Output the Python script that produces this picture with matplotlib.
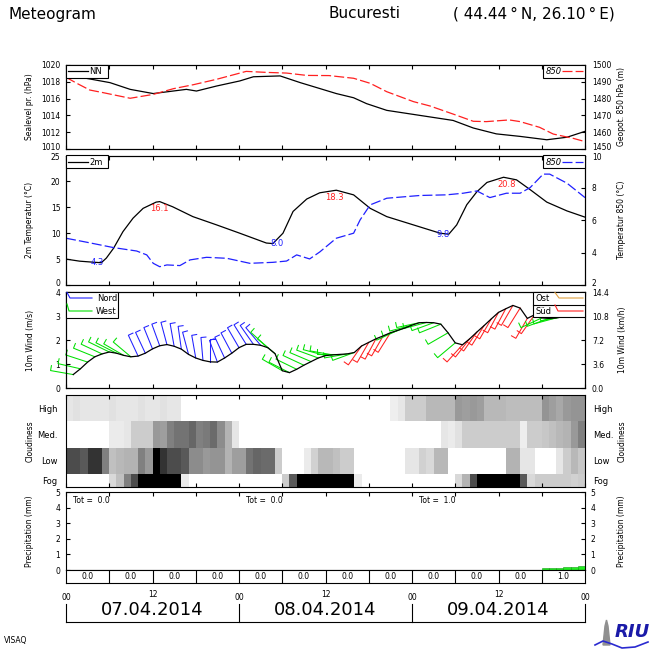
import numpy as np
import matplotlib.pyplot as plt
from matplotlib.patches import Rectangle, Polygon
from matplotlib.lines import Line2D

plt.rcParams['font.family'] = ['DejaVu Sans']

W, H = 650, 650

# ---------------- data ----------------
# sea level pressure (hPa)
hours_slp = [0, 2.9, 6.1, 8.9, 12.1, 16.7, 18.1, 20.9, 24.1, 26, 29.7, 32.5, 35.2, 37.5,
             39.9, 41.7, 44.5, 49.1, 53.7, 56.5, 59.7, 63, 66.7, 69.5, 72]
slp = [1019.4, 1018.4, 1017.9, 1017.1, 1016.6, 1017.1, 1016.9, 1017.5, 1018.1, 1018.6, 1018.7,
       1017.9, 1017.2, 1016.6, 1016.1, 1015.4, 1014.6, 1014.0, 1013.4, 1012.5, 1011.8, 1011.5,
       1011.1, 1011.4, 1012.1]

# geopotential 850 hPa (m)
hours_z = [0, 1.5, 3.3, 5.2, 8.9, 12.1, 14.9, 17.7, 20.9, 25, 27.8, 30.6, 33.4, 36.5, 39.9,
           42.2, 44.5, 48.2, 50.5, 53.7, 56.5, 58.3, 61.5, 63, 65.7, 67.6, 70.4, 72]
z850 = [1492.7, 1489.1, 1485.1, 1483.5, 1480.2, 1482.5, 1485.9, 1488.3, 1491.5, 1496.2, 1495.6,
        1495.2, 1493.8, 1493.7, 1492.1, 1489.1, 1484.1, 1478.2, 1475.6, 1470.8, 1466.5, 1466.3,
        1467.3, 1466.3, 1462.9, 1458.9, 1456.3, 1454.4]

# 2m temperature (C)
hours_t2 = [0, 1.9, 3.8, 4.9, 5.6, 6.6, 7.9, 9.3, 10.7, 12.5, 13, 14.8, 17.6, 20.9, 24.1, 27.8,
            28.7, 30.1, 31.5, 33.4, 35.2, 37.5, 39.9, 42.2, 44.5, 48.2, 51.9, 53.1, 54.2, 55.6,
            57, 58.4, 60.7, 62.5, 64.4, 66.7, 69.5, 72]
t2 = [5.0, 4.6, 4.4, 4.3, 5.2, 7.1, 10.3, 12.9, 14.8, 16.0, 16.1, 15.1, 13.2, 11.6, 10.0, 8.1,
      8.0, 10.0, 14.2, 16.6, 17.8, 18.3, 17.4, 14.8, 13.2, 11.6, 10.0, 9.8, 11.6, 15.5, 18.0,
      19.8, 20.8, 20.3, 18.4, 16.0, 14.3, 13.1]

# 850 hPa temperature (C)
hours_t850 = [0, 2.9, 6.6, 9.8, 11.2, 12.1, 13, 14, 15.8, 17.2, 19.5, 22.3, 25.5, 28.7, 30.6, 32,
              33.8, 35.2, 37.5, 39.9, 40.8, 42.2, 44.5, 49.1, 52.8, 55.1, 57, 58.8, 61.1, 63,
              64.4, 66.2, 67.1, 69.5, 72]
t850 = [4.89, 4.64, 4.31, 4.10, 3.86, 3.34, 3.13, 3.24, 3.20, 3.55, 3.71, 3.65, 3.34, 3.40, 3.48,
        3.86, 3.61, 4.04, 4.89, 5.20, 6.02, 6.95, 7.36, 7.53, 7.57, 7.67, 7.81, 7.40, 7.67, 7.67,
        8.02, 8.85, 8.85, 8.29, 7.40]

# labelled extremes of 2m temperature
ext_hours = [4.3, 13.0, 29.3, 37.2, 52.3, 61.1]
ext_values = [4.3, 16.1, 8.0, 18.3, 9.8, 20.8]
ext_is_max = [False, True, False, True, False, True]

# 10m wind, hourly from hour 1 to 72
wind_hours = list(range(1, 73))
wind_speed = [0.56, 0.80, 1.08, 1.30, 1.42, 1.50, 1.45, 1.36, 1.30, 1.33, 1.45, 1.63,
              1.76, 1.81, 1.74, 1.62, 1.40, 1.25, 1.15, 1.09, 1.08, 1.25, 1.45, 1.68,
              1.82, 1.82, 1.78, 1.68, 1.43, 0.72, 0.64, 0.78, 0.95, 1.10, 1.25, 1.35,
              1.38, 1.40, 1.42, 1.48, 1.75, 1.90, 2.05, 2.17, 2.30, 2.40, 2.50, 2.62,
              2.72, 2.73, 2.72, 2.66, 2.30, 1.88, 1.80, 2.05, 2.33, 2.60, 2.88, 3.15,
              3.30, 3.44, 3.33, 2.90, 3.05, 2.92, 2.90, 2.92, 2.97, 3.03, 3.15, 3.28]
wind_dir = [280, 283, 288, 292, 295, 296, 297, 300, 310, 335, 335, 338,
            340, 345, 350, 352, 345, 350, 355, 0, 340, 335, 332, 330,
            328, 325, 320, 312, 310, 300, 297, 296, 295, 293, 290, 285,
            280, 270, 260, 250, 215, 210, 208, 210, 212, 245, 250, 255,
            258, 255, 250, 248, 240, 230, 222, 218, 215, 212, 210, 208,
            208, 210, 212, 210, 215, 245, 250, 255, 260, 265, 270, 280]

# cloud cover grey level per hour (1 = clear, 0 = overcast)
cloud_high = [0.90, 0.88, 0.90, 0.90, 0.90, 0.90, 0.88, 0.90, 0.90, 0.90, 0.88, 0.90,
              0.90, 0.88, 0.90, 0.90, 1, 1, 1, 1, 1, 1, 1, 1,
              1, 1, 1, 1, 1, 1, 1, 1, 1, 1, 1, 1,
              1, 1, 1, 1, 1, 1, 1, 1, 1, 0.93, 0.90, 0.80,
              0.80, 0.80, 0.72, 0.72, 0.72, 0.72, 0.60, 0.62, 0.60, 0.62, 0.72, 0.72,
              0.72, 0.74, 0.74, 0.74, 0.74, 0.74, 0.58, 0.62, 0.66, 0.60, 0.58, 0.58]
cloud_med = [1, 1, 1, 1, 1, 1, 0.92, 0.92, 0.90, 0.80, 0.80, 0.80,
             0.60, 0.62, 0.50, 0.45, 0.45, 0.40, 0.50, 0.48, 0.42, 0.55, 0.70, 0.90,
             1, 1, 1, 1, 1, 1, 1, 1, 1, 1, 1, 1,
             1, 1, 1, 1, 1, 1, 1, 1, 1, 1, 1, 1,
             1, 1, 1, 1, 0.90, 0.92, 0.88, 0.80, 0.80, 0.80, 0.80, 0.80,
             0.80, 0.80, 0.80, 0.93, 0.80, 0.80, 0.78, 0.75, 0.72, 0.70, 0.60, 0.50]
cloud_low = [0.30, 0.30, 0.35, 0.20, 0.20, 0.50, 0.75, 0.72, 0.70, 0.70, 0.50, 0.60,
             0.00, 0.20, 0.30, 0.30, 0.35, 0.55, 0.55, 0.60, 0.58, 0.58, 0.70, 0.62,
             0.62, 0.45, 0.40, 0.42, 0.42, 0.80, 1, 1, 1, 0.92, 0.82, 0.72,
             0.72, 0.75, 0.80, 0.80, 1, 1, 1, 1, 1, 1, 1, 0.90,
             0.90, 0.82, 0.85, 0.72, 0.72, 1, 1, 1, 1, 1, 1, 1,
             1, 0.70, 0.70, 0.90, 0.90, 1, 1, 1, 0.90, 0.80, 0.72, 0.78]
cloud_fog = [1, 1, 1, 1, 1, 1, 0.85, 0.75, 0.50, 0.30, 0.00, 0.00,
             0, 0, 0, 0, 0.92, 1, 1, 1, 1, 1, 1, 1,
             1, 1, 1, 1, 1, 1, 0.80, 0.35, 0, 0, 0, 0,
             0, 0, 0, 0, 0.92, 1, 1, 1, 1, 1, 1, 1,
             1, 1, 1, 1, 1, 1, 0.85, 0.70, 0.30, 0, 0, 0,
             0, 0, 0, 0.35, 0.85, 0.80, 0.80, 0.80, 0.80, 0.80, 0.82, 0.80]
cloud_levels = ['Fog', 'Low', 'Med.', 'High']

# precipitation (mm per hour) and totals
precip_hours = [66, 67, 68, 69, 70, 71]
precip = [0.10, 0.12, 0.15, 0.18, 0.20, 0.25]
precip_6h = [0.0, 0.0, 0.0, 0.0, 0.0, 0.0, 0.0, 0.0, 0.0, 0.0, 0.0, 1.0]
day_totals = [0.0, 0.0, 1.0]
dates = ['07.04.2014', '08.04.2014', '09.04.2014']
hour_labels = ['00', '12', '00', '12', '00', '12', '00']

# ---------------- figure ----------------
fig = plt.figure(figsize=(6.5, 6.5), dpi=100)
LW = 0.8
FS = 5.5
X0, X1 = 66, 585
LEFT_LAB, RIGHT_LAB = 60.4, 592


def px_axes(x0, y0, x1, y1):
    return fig.add_axes([x0 / W, 1 - y1 / H, (x1 - x0) / W, (y1 - y0) / H])


def ftext(x, y, s, **kw):
    fig.text(x / W, 1 - y / H, s, **kw)


def fline(xs, ys, **kw):
    fig.add_artist(Line2D([x / W for x in xs], [1 - y / H for y in ys],
                          transform=fig.transFigure, **kw))


def fbox(x0, y0, x1, y1):
    fig.add_artist(Rectangle((x0 / W, 1 - y1 / H), (x1 - x0) / W, (y1 - y0) / H,
                             transform=fig.transFigure, facecolor='white',
                             edgecolor='black', lw=LW, zorder=5))


def style(ax):
    ax.set_xlim(0, 72)
    ax.set_xticks(np.arange(0, 73, 6))
    ax.tick_params(axis='x', direction='in', top=True, bottom=True, length=3,
                   width=LW, labelbottom=False)
    ax.tick_params(axis='y', direction='in', length=3, width=LW, labelsize=FS, pad=4)
    for s in ax.spines.values():
        s.set_linewidth(LW)


def yticks_with_edge(ax, ticks, fmt, drop):
    # tick labels at panel joints are placed by hand, nudged apart slightly
    ax.set_yticks(ticks)
    ax.set_yticklabels(['' if i in drop else fmt(t) for i, t in enumerate(ticks)])


def edge_label(y, s, side):
    if side == 'left':
        ftext(LEFT_LAB, y, s, fontsize=FS, ha='right', va='center')
    else:
        ftext(RIGHT_LAB, y, s, fontsize=FS, ha='left', va='center')


# titles
ftext(9, 14, 'Meteogram', fontsize=11, va='center')
ftext(328, 14, 'Bucuresti', fontsize=11, va='center')
ftext(453, 14, '( 44.44\u2009°\u2009N, 26.10\u2009°\u2009E)', fontsize=11, va='center')

# ---- panel 1: pressure ----
ax1 = px_axes(X0, 65, X1, 149)
style(ax1)
ax1.plot(hours_slp, slp, color='black', lw=0.9)
ax1.set_ylim(1010, 1020)
yticks_with_edge(ax1, list(range(1010, 1021, 2)), str, [0])
edge_label(147.4, '1010', 'left')
ax1b = ax1.twinx()
ax1b.plot(hours_z, z850, color='#ff2020', lw=0.9, dashes=(8, 2.5))
ax1b.set_ylim(1450, 1500)
yticks_with_edge(ax1b, list(range(1450, 1501, 10)), str, [0])
edge_label(147.4, '1450', 'right')
ax1b.tick_params(axis='y', direction='in', length=3, width=LW, labelsize=FS, pad=5)
ax1b.set_xlim(0, 72)
ftext(30, 107, 'Sealevel pr. (hPa)', fontsize=FS, rotation=90, ha='center', va='center')
ftext(622, 107, 'Geopot. 850 hPa (m)', fontsize=FS, rotation=90, ha='center', va='center')
fbox(66, 65, 108, 78)
fline([68, 88], [71, 71], color='black', lw=0.9, zorder=6)
ftext(89, 71.5, 'NN', fontsize=6, va='center', zorder=6)
fbox(543, 65, 585, 78)
ftext(546, 71.5, '850', fontsize=6, va='center', style='italic', zorder=6)
fline([562, 583], [71, 71], color='#ff2020', lw=0.9, dashes=(8, 2.5), zorder=6)

# ---- panel 2: temperature ----
ax2 = px_axes(X0, 155.5, X1, 285)
style(ax2)
ax2.plot(hours_t2, t2, color='black', lw=0.9)
ax2.set_ylim(0, 25)
yticks_with_edge(ax2, list(range(0, 26, 5)), str, [0, 5])
edge_label(157.6, '25', 'left')
edge_label(283.2, '0', 'left')
ax2b = ax2.twinx()
ax2b.plot(hours_t850, t850, color='#2020ff', lw=0.9, dashes=(8, 2.5))
ax2b.set_ylim(2, 10)
yticks_with_edge(ax2b, list(range(2, 11, 2)), str, [0, 4])
edge_label(157.6, '10', 'right')
edge_label(283.2, '2', 'right')
ax2b.tick_params(axis='y', direction='in', length=3, width=LW, labelsize=FS, pad=5)
ax2b.set_xlim(0, 72)
for h, v, is_max in zip(ext_hours, ext_values, ext_is_max):
    ax2.annotate(f'{v:.1f}', (h, v), xytext=(0, -5 if is_max else 0),
                 textcoords='offset points', ha='center', va='center', fontsize=6,
                 color='#ff2020' if is_max else '#2020ff')
ftext(30, 220, '2m Temperatur (°C)', fontsize=FS, rotation=90, ha='center', va='center')
ftext(622, 220, 'Temperatur 850 (°C)', fontsize=FS, rotation=90, ha='center', va='center')
fbox(66, 155.5, 108, 168.5)
fline([68, 88], [162, 162], color='black', lw=0.9, zorder=6)
ftext(89, 162.5, '2m', fontsize=6, va='center', zorder=6)
fbox(543, 155.5, 585, 168.5)
ftext(546, 162.5, '850', fontsize=6, va='center', style='italic', zorder=6)
fline([562, 583], [162, 162], color='#2020ff', lw=0.9, dashes=(8, 2.5), zorder=6)

# ---- panel 3: wind ----
ax3 = px_axes(X0, 292, X1, 388)
style(ax3)
ax3.set_ylim(0, 4)
yticks_with_edge(ax3, list(range(0, 5)), str, [4])
edge_label(293.8, '4', 'left')
sx = 72 / (X1 - X0)
sy = 4 / (388 - 292)
L, T = 23, 5


def dir_colour(d):
    d = d % 360
    if d >= 315 or d < 45:
        return '#2020ff'
    if d < 135:
        return '#e0a040'
    if d < 225:
        return '#ff2020'
    return '#00e000'


for h, s, d in zip(wind_hours, wind_speed, wind_dir):
    a = np.deg2rad(d)
    ux, uy = np.sin(a), np.cos(a)
    tipx, tipy = h + ux * L * sx, s + uy * L * sy
    tx, ty = tipx + uy * T * sx, tipy - ux * T * sy
    ax3.plot([h, tipx, tx], [s, tipy, ty], color=dir_colour(d), lw=0.75,
             clip_on=False, zorder=2)
ax3.plot(wind_hours, wind_speed, color='black', lw=0.9, zorder=3)
ax3b = ax3.twinx()
ax3b.set_ylim(0, 14.4)
kmh = [0, 3.6, 7.2, 10.8, 14.4]
yticks_with_edge(ax3b, kmh, lambda t: f'{t:.1f}', [4])
edge_label(293.8, '14.4', 'right')
ax3b.tick_params(axis='y', direction='in', length=3, width=LW, labelsize=FS, pad=5)
ax3b.set_xlim(0, 72)
ftext(30, 340, '10m Wind (m/s)', fontsize=FS, rotation=90, ha='center', va='center')
ftext(622, 340, '10m Wind (km/h)', fontsize=FS, rotation=90, ha='center', va='center')
fbox(66, 292, 118, 318)
fline([67, 70, 92], [292.5, 298, 298], color='#2020ff', lw=0.8, zorder=6)
ftext(97, 298.5, 'Nord', fontsize=6, va='center', zorder=6)
fline([67, 69, 92], [304, 311, 311], color='#00e000', lw=0.8, zorder=6)
ftext(96, 311.5, 'West', fontsize=6, va='center', zorder=6)
fbox(533, 292, 585, 317)
fline([533, 585], [304.5, 304.5], color='black', lw=LW, zorder=6)
ftext(536, 298.5, 'Ost', fontsize=6, va='center', zorder=6)
fline([555, 559, 583], [292.5, 298, 298], color='#e0a040', lw=0.8, zorder=6)
ftext(536, 311, 'Süd', fontsize=6, va='center', zorder=6)
fline([555, 558, 583], [305, 311, 311], color='#ff2020', lw=0.8, zorder=6)

# ---- panel 4: clouds ----
ax4 = px_axes(X0, 395, X1, 487)
style(ax4)
cloud = np.array([cloud_fog, cloud_low, cloud_med, cloud_high])
ax4.pcolormesh(np.arange(73), [0, 1, 3, 5, 7], cloud, cmap='gray', vmin=0, vmax=1,
               shading='flat')
ax4.set_ylim(0, 7)
ax4.set_yticks([0.5, 2, 4, 6])
ax4.set_yticklabels(cloud_levels)
ax4.tick_params(axis='y', length=0, labelsize=6, pad=6, right=False,
                labelright=True)
ftext(30, 441, 'Cloudiness', fontsize=FS, rotation=90, ha='center', va='center')
ftext(622, 441, 'Cloudiness', fontsize=FS, rotation=90, ha='center', va='center')

# ---- panel 5: precipitation ----
ax5 = px_axes(X0, 492, X1, 570)
style(ax5)
ax5.bar(precip_hours, precip, width=1, align='edge', color='#22ee22',
        edgecolor='#10a010', lw=0.4)
ax5.set_ylim(0, 5)
ax5.set_yticks(range(0, 6))
ax5.tick_params(axis='y', right=True, labelright=True)
ax5.tick_params(axis='x', bottom=False)
for i, tot in enumerate(day_totals):
    ax5.text(24 * i + 1, 0.885, f'Tot =  {tot:.1f}', transform=ax5.get_xaxis_transform(),
             fontsize=FS, va='center')
ftext(30, 531, 'Precipitation (mm)', fontsize=FS, rotation=90, ha='center', va='center')
ftext(622, 531, 'Precipitation (mm)', fontsize=FS, rotation=90, ha='center', va='center')

# 6-hour sums strip
ax6 = px_axes(X0, 570, X1, 583)
ax6.set_xlim(0, 72)
ax6.set_ylim(0, 1)
ax6.set_xticks([])
ax6.set_yticks([])
for s in ax6.spines.values():
    s.set_linewidth(LW)
for i, v in enumerate(precip_6h):
    if i > 0:
        ax6.axvline(6 * i, color='black', lw=LW)
    ax6.text(6 * i + 3, 0.5, f'{v:.1f}', ha='center', va='center', fontsize=FS)

# date axis
ax7 = px_axes(X0, 585, X1, 622)
ax7.set_xlim(0, 72)
ax7.set_ylim(0, 1)
ax7.axis('off')
for i, lab in enumerate(hour_labels):
    ax7.text(12 * i, 0.66 if lab == '00' else 0.73, lab, ha='center', va='center',
             fontsize=FS)
for d in [0, 24, 48, 72]:
    ax7.plot([d, d], [0, 0.5], color='black', lw=LW, clip_on=False)
ax7.plot([0, 72], [0, 0], color='black', lw=LW, clip_on=False)
for i, d in enumerate(dates):
    ax7.text(24 * i + 12, 0.32, d, ha='center', va='center', fontsize=13)

# footer
ftext(4, 641, 'VISAQ', fontsize=FS, va='center')
fig.add_artist(Polygon([(603 / W, 1 - 645 / H), (605 / W, 1 - 626 / H), (606.5 / W, 1 - 620 / H),
                        (608 / W, 1 - 626 / H), (610 / W, 1 - 645 / H)],
                       transform=fig.transFigure, color='#909090'))
ftext(632, 632, 'RIU', fontsize=13, fontweight='bold', style='italic', color='#1a1aa8',
      ha='center', va='center')
fline([595, 603, 612, 622, 635, 648], [645, 641, 644, 648, 647, 642], color='#2a2ad0', lw=1.2)

fig.savefig('out.png', dpi=100)
